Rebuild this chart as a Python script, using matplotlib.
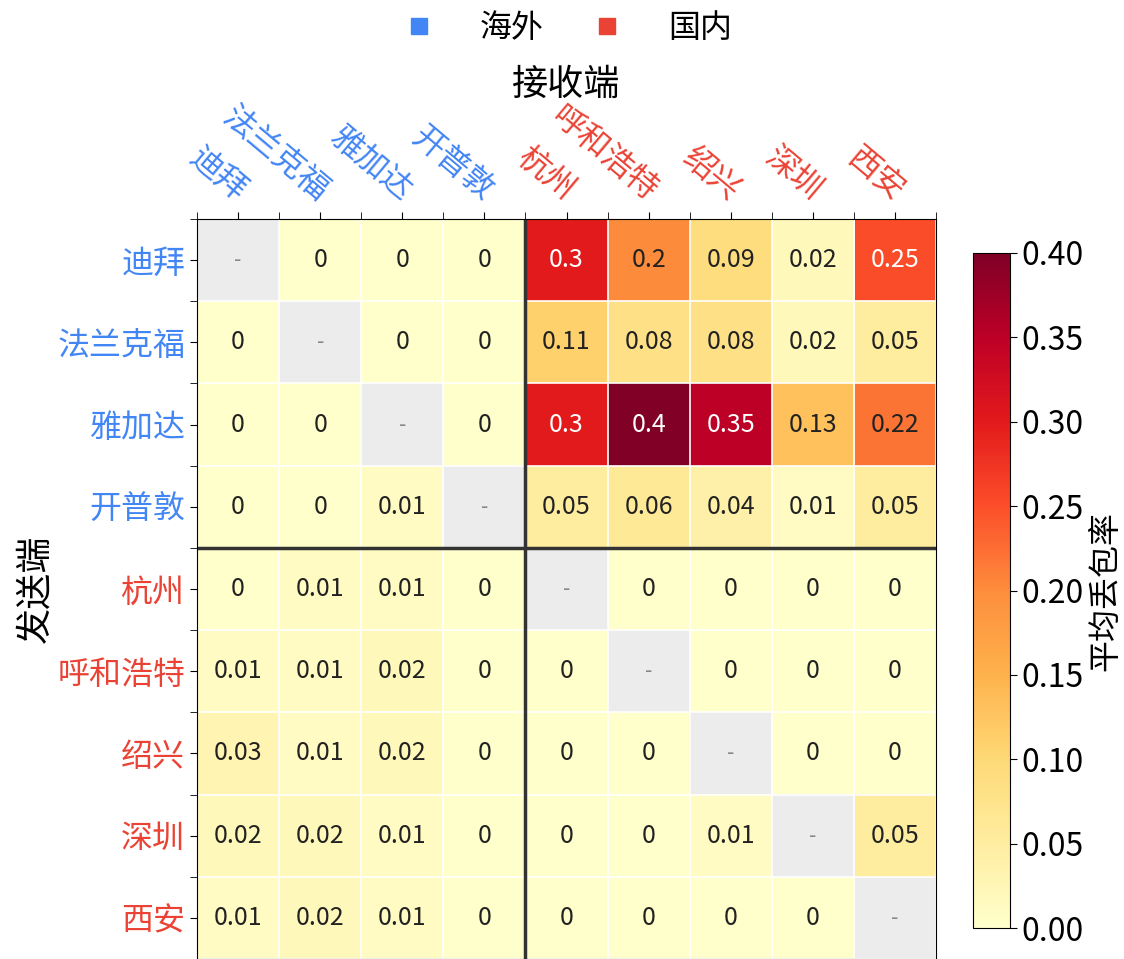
import numpy as np
import matplotlib
matplotlib.use("Agg")
import matplotlib.pyplot as plt
import matplotlib.transforms as mtransforms
from matplotlib.lines import Line2D

plt.rcParams['font.family'] = ['Noto Sans CJK SC', 'DejaVu Sans']

NODES = ["迪拜", "法兰克福", "雅加达", "开普敦", "杭州", "呼和浩特", "绍兴", "深圳", "西安"]
N_OVERSEAS = 4
NAN = np.nan
# rows = sender, cols = receiver
LOSS = np.array([
    [NAN, 0, 0, 0, 0.3, 0.2, 0.09, 0.02, 0.25],
    [0, NAN, 0, 0, 0.11, 0.08, 0.08, 0.02, 0.05],
    [0, 0, NAN, 0, 0.3, 0.4, 0.35, 0.13, 0.22],
    [0, 0, 0.01, NAN, 0.05, 0.06, 0.04, 0.01, 0.05],
    [0, 0.01, 0.01, 0, NAN, 0, 0, 0, 0],
    [0.01, 0.01, 0.02, 0, 0, NAN, 0, 0, 0],
    [0.03, 0.01, 0.02, 0, 0, 0, NAN, 0, 0],
    [0.02, 0.02, 0.01, 0, 0, 0, 0.01, NAN, 0.05],
    [0.01, 0.02, 0.01, 0, 0, 0, 0, 0, NAN],
])
BLUE, RED = "#4285F4", "#EA4335"
VMAX = 0.4

n = len(NODES)
cmap = plt.get_cmap("YlOrRd").copy()
cmap.set_bad("#ececec")
colors = [BLUE if i < N_OVERSEAS else RED for i in range(n)]

fig = plt.figure(figsize=(11.24, 9.59), dpi=100)
ax = fig.add_axes([0.1753, 0.0, 0.6575, 0.7716])
im = ax.imshow(np.ma.masked_invalid(LOSS), cmap=cmap, vmin=0, vmax=VMAX, aspect="auto")

for i in range(n):
    for j in range(n):
        v = LOSS[i, j]
        if np.isnan(v):
            ax.text(j, i, "-", ha="center", va="center", fontsize=15, color="#888888")
        else:
            ax.text(j, i, f"{v:g}", ha="center", va="center", fontsize=18,
                    color="white" if v >= 0.24 else "#222222")

ax.set_xticks(np.arange(n)); ax.set_yticks(np.arange(n))
ax.set_xticks(np.arange(-0.5, n, 1), minor=True); ax.set_yticks(np.arange(-0.5, n, 1), minor=True)
ax.grid(which="minor", color="white", linewidth=1.2)
ax.xaxis.tick_top(); ax.xaxis.set_label_position("top")
ax.tick_params(which="both", top=True, bottom=False, left=True, length=5)
ax.set_xticklabels(NODES, fontsize=23, rotation=-40, ha="right")
ax.set_yticklabels(NODES, fontsize=23)
off = mtransforms.ScaledTranslation(15 / 100, 0, fig.dpi_scale_trans)
for lab, c in zip(ax.get_xticklabels(), colors):
    lab.set_color(c); lab.set_transform(lab.get_transform() + off)
for lab, c in zip(ax.get_yticklabels(), colors):
    lab.set_color(c)
ax.axhline(N_OVERSEAS - 0.5, color="#333333", lw=2.5)
ax.axvline(N_OVERSEAS - 0.5, color="#333333", lw=2.5)
ax.set_xlabel("接收端", fontsize=26, labelpad=4)
ax.set_ylabel("发送端", fontsize=26, labelpad=2)

cax = fig.add_axes([0.8657, 0.0323, 0.0329, 0.7039])
cb = fig.colorbar(im, cax=cax, ticks=np.arange(0, VMAX + 0.01, 0.05), format="%.2f")
cb.ax.tick_params(labelsize=23, length=5)
cb.set_label("平均丢包率", fontsize=23, labelpad=4)

h = [Line2D([], [], marker="s", ls="", color=BLUE, markersize=11, label="海外"),
     Line2D([], [], marker="s", ls="", color=RED, markersize=11, label="国内")]
fig.legend(handles=h, loc="center", bbox_to_anchor=(0.4975, 0.971), ncol=2, frameon=False,
           fontsize=23, handletextpad=0.9, columnspacing=1.0)

fig.savefig("out.png", dpi=100)
